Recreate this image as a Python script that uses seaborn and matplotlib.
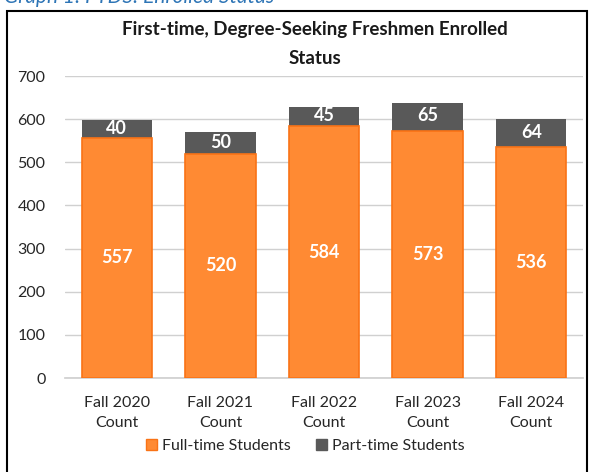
import numpy as np
import pandas as pd
import matplotlib
matplotlib.use("Agg")
import matplotlib.pyplot as plt
import seaborn as sns
from matplotlib.patches import Rectangle

# --- DATA ---
terms = ["Fall 2020\nCount", "Fall 2021\nCount", "Fall 2022\nCount",
         "Fall 2023\nCount", "Fall 2024\nCount"]
full_time = [557, 520, 584, 573, 536]
part_time = [40, 50, 45, 65, 64]

COLORS = {
    'Full': '#FF8A33',
    'FullEdge': '#F97316',
    'Part': '#595959',
}

sns.set_theme(style="white")
plt.rcParams['font.family'] = ['Lato', 'DejaVu Sans']

df = pd.DataFrame({'term': terms, 'full': full_time, 'part': part_time})
df['total'] = df['full'] + df['part']

fig = plt.figure(figsize=(5.93, 4.72), dpi=100)
ax = fig.add_axes([65 / 593, (472 - 378) / 472, (583 - 65) / 593, (378 - 76) / 472])

# gray first (total height), orange drawn over it
sns.barplot(data=df, x='term', y='total', color=COLORS['Part'], saturation=1,
            width=0.68, linewidth=0, ax=ax, zorder=2)
sns.barplot(data=df, x='term', y='full', color=COLORS['Full'], saturation=1,
            width=0.68, edgecolor=COLORS['FullEdge'], linewidth=1.2, ax=ax, zorder=3)

gray_bars = ax.containers[0]
orange_bars = ax.containers[1]

# labels
for bar, v in zip(orange_bars, full_time):
    ax.text(bar.get_x() + bar.get_width() / 2, v / 2, str(v), ha='center', va='center',
            color='white', fontsize=13, fontweight='bold', zorder=5)
for bar, f, p in zip(gray_bars, full_time, part_time):
    ax.text(bar.get_x() + bar.get_width() / 2, f + p / 2 + 2, str(p), ha='center', va='center',
            color='white', fontsize=13, fontweight='bold', zorder=5)

ax.set_ylim(0, 700)
ax.set_yticks(range(0, 701, 100))
ax.set_xlim(-0.5, 4.5)
ax.grid(True, axis='y', color='#D0D0D0', linewidth=1, zorder=0)
ax.set_axisbelow(True)
for s in ['top', 'right', 'left']:
    ax.spines[s].set_visible(False)
ax.spines['bottom'].set_color('#D0D0D0')
ax.tick_params(axis='both', length=0, labelsize=11.5, colors='#262626')
ax.tick_params(axis='x', pad=13)
ax.tick_params(axis='y', pad=14)
for lbl in ax.get_xticklabels():
    lbl.set_linespacing(1.55)
ax.set_xlabel("")
ax.set_ylabel("")

# title
fig.text(315 / 593, 1 - 30 / 472, "First-time, Degree-Seeking Freshmen Enrolled",
         ha='center', va='center', fontsize=13.5, fontweight='bold', color='#1a1a1a')
fig.text(315 / 593, 1 - 58 / 472, "Status",
         ha='center', va='center', fontsize=13.5, fontweight='bold', color='#1a1a1a')

# clipped caption above the chart frame
fig.text(4 / 593, 1 - 3 / 472, "Graph 1: FTDS: Enrolled Status", ha='left', va='baseline',
         fontsize=15, style='italic', color='#2E75B6')

# chart frame
fig.patches.append(Rectangle((7 / 593, -0.01), (587 - 7) / 593, (472 - 11) / 472 + 0.01,
                             transform=fig.transFigure, fill=False, edgecolor='black',
                             linewidth=1.5))

# legend
handles = [Rectangle((0, 0), 1, 1, facecolor=COLORS['Full'], edgecolor=COLORS['FullEdge']),
           Rectangle((0, 0), 1, 1, facecolor=COLORS['Part'], edgecolor=COLORS['Part'])]
fig.legend(handles, ['Full-time Students', 'Part-time Students'], loc='center',
           bbox_to_anchor=(305 / 593, 1 - 446 / 472), ncol=2, frameon=False, fontsize=11.5,
           handlelength=0.7, handleheight=0.7, handletextpad=0.3, columnspacing=1.6)

fig.savefig("out.png", dpi=100)
